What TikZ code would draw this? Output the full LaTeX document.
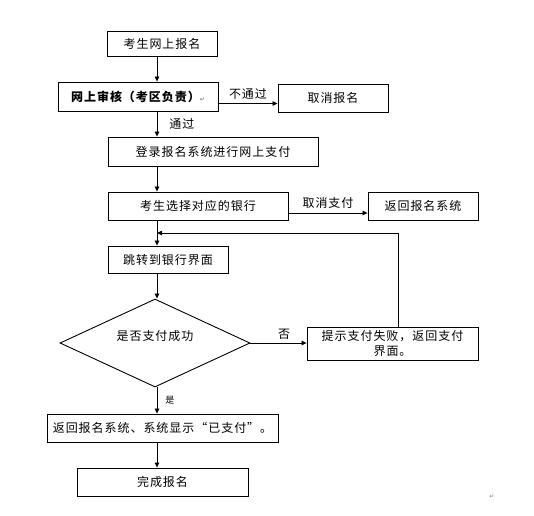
\documentclass[tikz,border=0pt]{standalone}
\usepackage{fontspec}
\setmainfont{Noto Sans CJK SC}[LetterSpace=8]
\newfontfamily\symf{DejaVu Sans}
\usetikzlibrary{shapes.geometric,arrows.meta}
\begin{document}
\begin{tikzpicture}[x=1pt,y=-1pt,
  box/.style={draw,line width=0.9pt,inner sep=0pt,font=\fontsize{12}{15}\selectfont},
  arr/.style={-{Triangle[length=5pt,width=4.5pt]},line width=0.8pt},
  lab/.style={inner sep=0pt,font=\fontsize{12}{14}\selectfont},
  pmark/.style={inner sep=0pt,text=gray,font=\symf\fontsize{6}{7}\selectfont}]
\useasboundingbox (0,0) rectangle (534,515);
\coordinate (ax) at (157,0);
\node[box,minimum width=110pt,minimum height=25pt] (b1) at (162,43.5) {考生网上报名};
\node[box,minimum width=160pt,minimum height=29pt] (b2) at (138,96.5) {\bfseries 网上审核（考区负责）{\symf\fontsize{6}{7}\selectfont\color{gray}↵}};
\node[box,minimum width=110pt,minimum height=28pt] (cancel) at (333,98) {取消报名};
\node[box,minimum width=210pt,minimum height=29pt] (b3) at (213,151.5) {登录报名系统进行网上支付};
\node[box,minimum width=180pt,minimum height=28pt] (b4) at (198,206) {考生选择对应的银行};
\node[box,minimum width=110pt,minimum height=28pt] (ret) at (423,206) {返回报名系统};
\node[box,minimum width=120pt,minimum height=27pt] (b5) at (168,259.5) {跳转到银行界面};
\node[draw,line width=0.9pt,diamond,inner sep=0pt,minimum width=190pt,minimum height=88pt,aspect=2.16,
  label={[lab,yshift=7pt]center:是否支付成功}] (dia) at (155,343) {};
\node[box,minimum width=171pt,minimum height=33pt,align=center] (fail) at (392.5,343.5) {提示支付失败，返回支付\\界面。};
\node[box,minimum width=231pt,minimum height=28pt] (b6) at (162.5,428) {返回报名系统、系统显示“已支付”。};
\node[box,minimum width=171pt,minimum height=28pt] (b7) at (162.5,482) {完成报名};
\coordinate (y1) at (0,103.5);
\coordinate (y2) at (0,213);
\coordinate (lp) at (398,233);
% connectors
\draw[arr] (b1.south -| ax) -- (b2.north -| ax);
\draw[arr] (b2.east |- y1) -- node[lab,above=4pt]{不通过} (cancel.west |- y1);
\draw[arr] (b2.south -| ax) -- node[lab,right=12pt,pos=0.5]{通过} (b3.north -| ax);
\draw[arr] (b3.south -| ax) -- (b4.north -| ax);
\draw[arr] (b4.east |- y2) -- node[lab,above=4pt]{取消支付} (ret.west |- y2);
\draw[arr] (b4.south -| ax) -- (b5.north -| ax);
\draw[arr] (fail.north -| lp) -- (lp) -- (lp -| ax);
\draw[arr] (b5.south -| ax) -- (dia.north -| ax);
\draw[arr] (dia.east) -- node[lab,above=3pt,pos=0.6]{否} (fail.west |- dia.east);
\draw[arr] (dia.south -| ax) -- node[inner sep=0pt,right=8pt,font=\fontsize{9}{10}\selectfont]{是} (b6.north -| ax);
\draw[arr] (b6.south -| ax) -- (b7.north -| ax);
\node[pmark] (pm) at (492,497) {↵};
\end{tikzpicture}
\end{document}
